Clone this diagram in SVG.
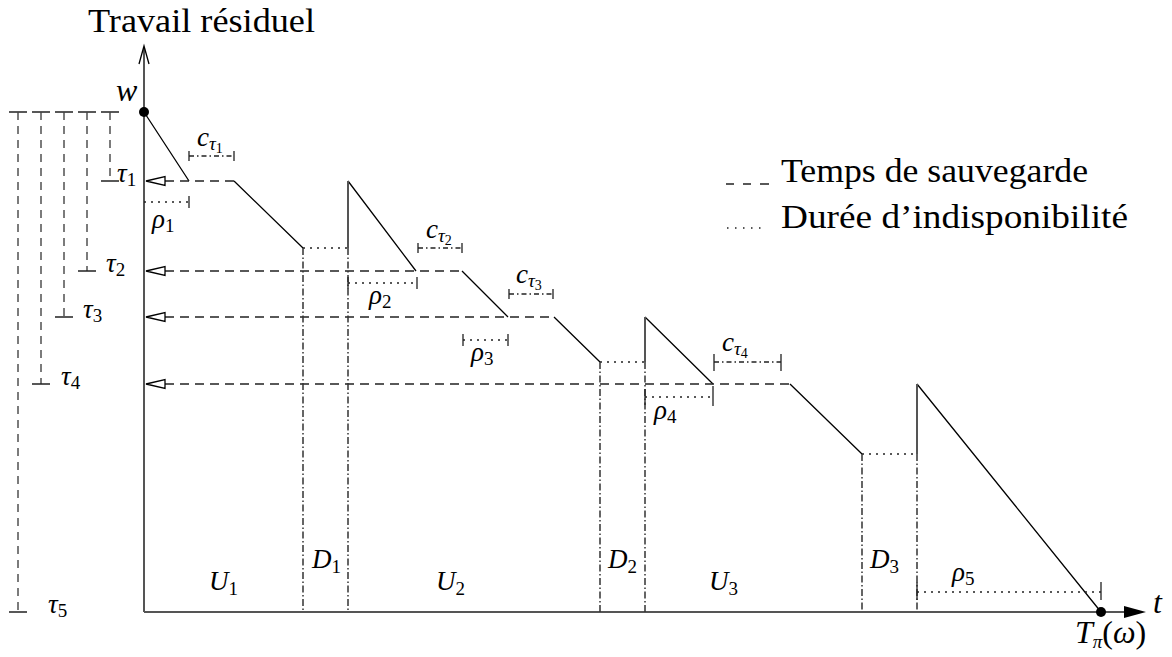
<svg xmlns="http://www.w3.org/2000/svg" width="1172" height="657" viewBox="0 0 1172 657">
<style>
.bg{fill:#fff}
.sol{stroke:#000;stroke-width:1.3;fill:none}
.ax{stroke:#555;stroke-width:2;fill:none}
.vs{stroke:#555;stroke-width:2;fill:none}
.dash{stroke:#222;stroke-width:1.4;fill:none;stroke-dasharray:9 6}
.gdash{stroke:#444;stroke-width:1.4;fill:none;stroke-dasharray:8 6}
.dot{stroke:#222;stroke-width:1.4;fill:none;stroke-dasharray:2 5}
.dd{stroke:#333;stroke-width:1.5;fill:none;stroke-dasharray:7 2.5 1.5 2.5}
.cdd{stroke:#222;stroke-width:1.4;fill:none;stroke-dasharray:5 3 1.5 3}
.bar{stroke:#222;stroke-width:1.3;fill:none}
.tri{fill:#fff;stroke:#000;stroke-width:1.3}
.txt{font-family:"Liberation Serif",serif;font-size:34px;fill:#000}
.m{font-family:"Liberation Serif",serif;font-style:italic;font-size:27px;fill:#000}
.big{font-size:32px}
.s1{font-size:19px}
.s2{font-size:14px;font-style:normal}
.n{font-style:normal}
</style>
<rect class="bg" x="0" y="0" width="1172" height="657"/>

<g id="axes">
  <line class="ax" x1="144" y1="612" x2="144" y2="47"/>
  <path class="sol" d="M139,64 L144,46 L149,64"/>
  <line class="ax" x1="144" y1="612" x2="1128" y2="612"/>
  <path d="M1146,612 L1124,606 L1124,618 Z" fill="#000"/>
  <text class="txt" x="88" y="32" textLength="227" lengthAdjust="spacingAndGlyphs">Travail résiduel</text>
  <text class="m big" x="1153" y="613">t</text>
  <text class="m big" x="1075" y="643">T<tspan class="s1" dy="5">π</tspan><tspan class="n" dy="-5">(</tspan>ω<tspan class="n">)</tspan></text>
  <text class="m big" x="116" y="101">w</text>
  <circle cx="144" cy="112" r="5" fill="#000"/>
  <circle cx="1101" cy="612" r="5" fill="#000"/>
</g>

<g id="gauges">
  <path class="bar" d="M9,112 H27 M32,112 H50 M55,112 H73 M78,112 H96 M101,112 H119"/>
  <line class="gdash" x1="110" y1="112" x2="110" y2="181"/>
  <line class="gdash" x1="87" y1="112" x2="87" y2="271"/>
  <line class="gdash" x1="64" y1="112" x2="64" y2="317"/>
  <line class="gdash" x1="41" y1="112" x2="41" y2="384"/>
  <line class="gdash" x1="18" y1="112" x2="18" y2="612"/>
  <path class="bar" d="M101,181 H119 M78,271 H96 M55,317 H73 M32,384 H50 M9,612 H27"/>
  <text class="m" x="117" y="182">τ<tspan class="s1 n" dy="4">1</tspan></text>
  <text class="m" x="106" y="272">τ<tspan class="s1 n" dy="4">2</tspan></text>
  <text class="m" x="83" y="318">τ<tspan class="s1 n" dy="4">3</tspan></text>
  <text class="m" x="61" y="385">τ<tspan class="s1 n" dy="4">4</tspan></text>
  <text class="m" x="48" y="613">τ<tspan class="s1 n" dy="4">5</tspan></text>
</g>

<g id="connectors">
  <path class="sol" d="M144,112 L189,181 M234,181 L303,248 M348,181 L416,271 M462,271 L508,317 M554,317 L600,362 M645,317 L713,384 M790,384 L862,454 M917,384 L1101,612"/>
  <path class="vs" d="M348,181 V248 M645,317 V362 M917,384 V454"/>
  <line class="dash" x1="165" y1="181" x2="234" y2="181"/>
  <line class="dash" x1="165" y1="271" x2="462" y2="271"/>
  <line class="dash" x1="165" y1="317" x2="554" y2="317"/>
  <line class="dash" x1="165" y1="384" x2="790" y2="384"/>
  <path class="tri" d="M146,181 L165,176.5 L165,185.5 Z"/>
  <path class="tri" d="M146,271 L165,266.5 L165,275.5 Z"/>
  <path class="tri" d="M146,317 L165,312.5 L165,321.5 Z"/>
  <path class="tri" d="M146,384 L165,379.5 L165,388.5 Z"/>
  <path class="dot" d="M303,248 H348 M600,362 H645 M862,454 H917"/>
  <path class="dd" d="M303,248 V612 M348,248 V612 M600,362 V612 M645,362 V612 M862,454 V612 M917,454 V612"/>
</g>

<g id="checkpoint-costs">
  <path class="cdd" d="M189,156 H234 M418,248 H462 M509,294 H553 M714,362 H781"/>
  <path class="bar" d="M189,151 V161 M234,151 V161 M418,243 V253 M462,243 V253 M509,289 V299 M553,289 V299 M714,354 V371 M781,354 V371"/>
  <text class="m" x="197" y="146">c<tspan class="s1" dy="4">τ</tspan><tspan class="s2" dy="3">1</tspan></text>
  <text class="m" x="426" y="238">c<tspan class="s1" dy="4">τ</tspan><tspan class="s2" dy="3">2</tspan></text>
  <text class="m" x="516" y="283">c<tspan class="s1" dy="4">τ</tspan><tspan class="s2" dy="3">3</tspan></text>
  <text class="m" x="722" y="351">c<tspan class="s1" dy="4">τ</tspan><tspan class="s2" dy="3">4</tspan></text>
</g>

<g id="recoveries">
  <path class="dot" d="M144,202 H189 M348,283 H417 M463,340 H508 M645,397 H713 M917,592 H1101"/>
  <path class="bar" d="M189,196 V208 M348,277 V289 M417,277 V289 M463,334 V346 M508,334 V346 M645,389 V405 M713,386 V406 M917,582 V600 M1101,582 V600"/>
  <text class="m" x="152" y="228">ρ<tspan class="s1 n" dy="4">1</tspan></text>
  <text class="m" x="369" y="304">ρ<tspan class="s1 n" dy="4">2</tspan></text>
  <text class="m" x="471" y="361">ρ<tspan class="s1 n" dy="4">3</tspan></text>
  <text class="m" x="654" y="419">ρ<tspan class="s1 n" dy="4">4</tspan></text>
  <text class="m" x="952" y="581">ρ<tspan class="s1 n" dy="4">5</tspan></text>
</g>

<g id="periods">
  <text class="m" x="209" y="590">U<tspan class="s1 n" dy="5">1</tspan></text>
  <text class="m" x="312" y="568">D<tspan class="s1 n" dy="5">1</tspan></text>
  <text class="m" x="436" y="590">U<tspan class="s1 n" dy="5">2</tspan></text>
  <text class="m" x="608" y="568">D<tspan class="s1 n" dy="5">2</tspan></text>
  <text class="m" x="709" y="590">U<tspan class="s1 n" dy="5">3</tspan></text>
  <text class="m" x="870" y="568">D<tspan class="s1 n" dy="5">3</tspan></text>
</g>

<g id="legend">
  <path class="bar" d="M726,184 H734 M743,184 H751 M760,184 H769"/>
  <text class="txt" x="781" y="182" textLength="307" lengthAdjust="spacingAndGlyphs">Temps de sauvegarde</text>
  <path class="bar" d="M727,228 h1.5 M735,228 h1.5 M743,228 h1.5 M751,228 h1.5 M759,228 h1.5"/>
  <text class="txt" x="781" y="228" textLength="347" lengthAdjust="spacingAndGlyphs">Durée d’indisponibilité</text>
</g>
</svg>
